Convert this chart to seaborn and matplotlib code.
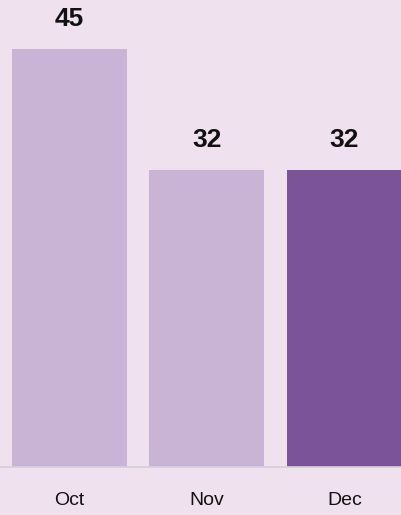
import pandas as pd
import seaborn as sns
import matplotlib.pyplot as plt

meses = ["Oct", "Nov", "Dec"]
valores = [45, 32, 32]
cores = ["#C9B4D5", "#C9B4D5", "#7B5399"]

fundo = "#F0E1EF"

df = pd.DataFrame({"mes": meses, "valor": valores})

sns.set_style("white")
plt.rcParams["font.family"] = ["Liberation Sans", "DejaVu Sans"]

fig = plt.figure(figsize=(4.02, 5.15), dpi=100, facecolor=fundo)
ax = fig.add_axes([0, 48 / 515, 1, 467 / 515])
ax.set_facecolor(fundo)

sns.barplot(data=df, x="mes", y="valor", hue="mes", palette=cores,
            width=0.836, saturation=1, legend=False, linewidth=0, ax=ax)

ax.set_xlim(-0.505, 2.418)
ax.set_ylim(0, 50.3)

# rótulos de valor acima das barras
for i, v in enumerate(valores):
    ax.annotate(str(v), (i, v), xytext=(0, 30), textcoords="offset pixels",
                ha="center", va="center", fontsize=19, fontweight="bold",
                color="#111111")

for lado in ["top", "right", "left"]:
    ax.spines[lado].set_visible(False)
ax.spines["bottom"].set_color("#D6D0D6")
ax.spines["bottom"].set_linewidth(1.2)

ax.set_yticks([])
ax.set_xlabel("")
ax.set_ylabel("")
ax.tick_params(axis="x", length=0, pad=18, labelsize=14, labelcolor="#111111")

fig.savefig("out.png", dpi=100, facecolor=fundo)
